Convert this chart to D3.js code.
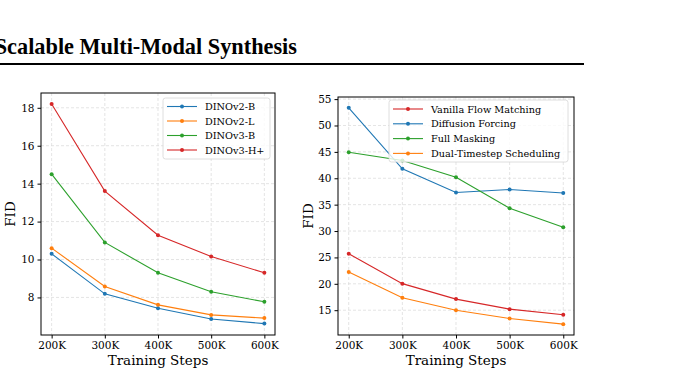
<!DOCTYPE html>
<html>
<head>
<meta charset="utf-8">
<script src="https://cdn.jsdelivr.net/npm/d3@7"></script>
<style>
	body { margin: 0; background: #fff; }
	svg { display: block; }
	.tick text { font-family: 'DejaVu Serif', serif; font-size: 10.5px; fill: #000; }
	.grid line { stroke: #d8d8d8; stroke-dasharray: 3,2; stroke-width: 0.7; }
	.label { font-family: 'DejaVu Serif', serif; font-size: 13.5px; fill: #000; }
	.legend text { font-family: 'DejaVu Serif', serif; font-size: 9.7px; fill: #000; }
</style>
</head>
<body>
<svg width="700" height="380"></svg>
<script>
const steps = ['200K', '300K', '400K', '500K', '600K']

// left panel: encoder
const dinoNames = ['DINOv2-B', 'DINOv2-L', 'DINOv3-B', 'DINOv3-H+']
const dinoV2B = [10.3, 8.19, 7.43, 6.86, 6.62]
const dinoV2L = [10.6, 8.58, 7.61, 7.08, 6.91]
const dinoV3B = [14.5, 10.9, 9.3, 8.3, 7.77]
const dinoV3H = [18.2, 13.61, 11.28, 10.16, 9.3]
const leftTicks = [8, 10, 12, 14, 16, 18]

// right panel: scheduling
const schedNames = ['Vanilla Flow Matching', 'Diffusion Forcing', 'Full Masking', 'Dual-Timestep Scheduling']
const vanilla = [25.7, 20.03, 17.1, 15.2, 14.13]
const diffForcing = [53.36, 41.8, 37.3, 37.86, 37.22]
const fullMasking = [44.94, 43.38, 40.18, 34.3, 30.7]
const dualTimestep = [22.23, 17.34, 15.0, 13.43, 12.36]
const rightTicks = [15, 20, 25, 30, 35, 40, 45, 50, 55]

const blue = '#1f77b4', orange = '#ff7f0e', green = '#2ca02c', red = '#d62728'

const svg = d3.select('svg')

// title + rule
svg.append('text')
	.attr('x', 297).attr('y', 54)
	.attr('text-anchor', 'end')
	.attr('font-family', "'Liberation Serif', serif")
	.attr('font-weight', 'bold')
	.attr('font-size', 22.3)
	.text('Scalable Multi-Modal Synthesis')

svg.append('line')
	.attr('x1', 0).attr('x2', 584)
	.attr('y1', 64).attr('y2', 64)
	.attr('stroke', '#000').attr('stroke-width', 2)

function drawPanel(opts) {
	const { box, yDomain, yTicks, series, legend } = opts
	const g = svg.append('g')

	const x = d3.scaleLinear().domain([-0.2, 4.2]).range([box.left, box.right])
	const y = d3.scaleLinear().domain(yDomain).range([box.bottom, box.top])

	// grid
	const grid = g.append('g').attr('class', 'grid')
	grid.selectAll('.gx').data(d3.range(steps.length)).enter().append('line')
		.attr('x1', d => x(d)).attr('x2', d => x(d))
		.attr('y1', box.top).attr('y2', box.bottom)
	grid.selectAll('.gy').data(yTicks).enter().append('line')
		.attr('x1', box.left).attr('x2', box.right)
		.attr('y1', d => y(d)).attr('y2', d => y(d))

	// axes
	g.append('g')
		.attr('transform', `translate(0,${box.bottom})`)
		.call(d3.axisBottom(x).tickValues(d3.range(steps.length)).tickFormat(i => steps[i]).tickSize(3.5).tickPadding(3))
		.call(a => a.select('.domain').remove())
	g.append('g')
		.attr('transform', `translate(${box.left},0)`)
		.call(d3.axisLeft(y).tickValues(yTicks).tickSize(3.5).tickPadding(3))
		.call(a => a.select('.domain').remove())

	g.append('rect')
		.attr('x', box.left).attr('y', box.top)
		.attr('width', box.right - box.left).attr('height', box.bottom - box.top)
		.attr('fill', 'none').attr('stroke', '#000').attr('stroke-width', 1)

	// lines
	const line = d3.line().x((d, i) => x(i)).y(d => y(d))
	series.forEach(s => {
		const sg = g.append('g')
		sg.append('path')
			.datum(s.values)
			.attr('d', line)
			.attr('fill', 'none')
			.attr('stroke', s.color)
			.attr('stroke-width', 1.1)
		sg.selectAll('circle').data(s.values).enter().append('circle')
			.attr('cx', (d, i) => x(i)).attr('cy', d => y(d))
			.attr('r', 2).attr('fill', s.color)
	})

	// labels
	svg.append('text').attr('class', 'label')
		.attr('x', (box.left + box.right) / 2).attr('y', 365)
		.attr('text-anchor', 'middle')
		.text('Training Steps')
	svg.append('text').attr('class', 'label')
		.attr('transform', `translate(${opts.yLabelX},${(box.top + box.bottom) / 2}) rotate(-90)`)
		.attr('text-anchor', 'middle')
		.text('FID')

	// legend
	const lg = svg.append('g').attr('class', 'legend')
	lg.append('rect')
		.attr('x', legend.x).attr('y', legend.y)
		.attr('width', legend.w).attr('height', legend.h)
		.attr('rx', 2.5)
		.attr('fill', 'rgba(255,255,255,0.8)')
		.attr('stroke', '#d6d6d6').attr('stroke-width', 0.8)
	legend.order.forEach((s, i) => {
		const cy = legend.y + legend.first + i * legend.step
		lg.append('line')
			.attr('x1', legend.x + 4).attr('x2', legend.x + 34)
			.attr('y1', cy).attr('y2', cy)
			.attr('stroke', s.color).attr('stroke-width', 1.1)
		lg.append('circle')
			.attr('cx', legend.x + 19).attr('cy', cy).attr('r', 2)
			.attr('fill', s.color)
		lg.append('text')
			.attr('x', legend.x + 42).attr('y', cy + 3.5)
			.text(s.name)
	})
}

const leftSeries = [
	{ name: dinoNames[0], values: dinoV2B, color: blue },
	{ name: dinoNames[1], values: dinoV2L, color: orange },
	{ name: dinoNames[2], values: dinoV3B, color: green },
	{ name: dinoNames[3], values: dinoV3H, color: red },
]

drawPanel({
	box: { left: 41, right: 275, top: 93, bottom: 335 },
	yDomain: [6.02, 18.78],
	yTicks: leftTicks,
	series: leftSeries,
	yLabelX: 15,
	legend: { x: 163, y: 98, w: 107, h: 61, first: 8.5, step: 14.5, order: leftSeries },
})

const rightSeries = [
	{ name: schedNames[0], values: vanilla, color: red },
	{ name: schedNames[1], values: diffForcing, color: blue },
	{ name: schedNames[2], values: fullMasking, color: green },
	{ name: schedNames[3], values: dualTimestep, color: orange },
]

drawPanel({
	box: { left: 338, right: 574, top: 97, bottom: 335 },
	yDomain: [10.3, 55.4],
	yTicks: rightTicks,
	series: rightSeries,
	yLabelX: 313,
	legend: { x: 389, y: 100, w: 179, h: 62, first: 9, step: 14.8, order: rightSeries },
})
</script>
</body>
</html>
